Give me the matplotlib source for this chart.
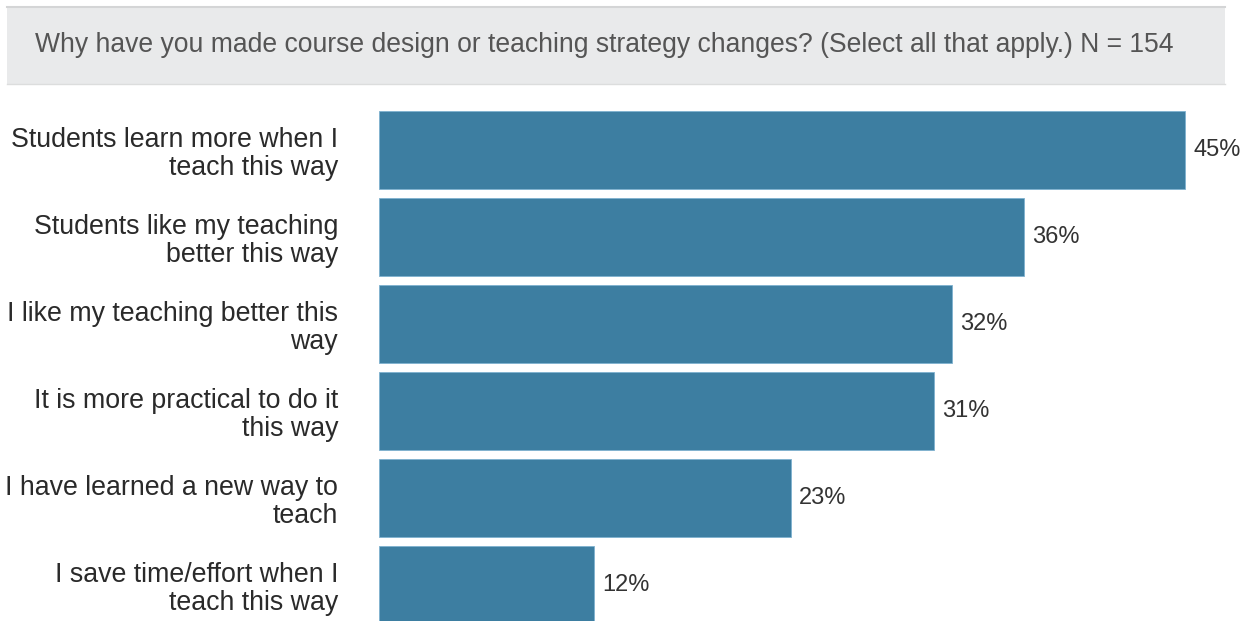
import matplotlib.pyplot as plt
from matplotlib.patches import Rectangle

plt.rcParams['font.family'] = ['Liberation Sans', 'DejaVu Sans']

title = "Why have you made course design or teaching strategy changes? (Select all that apply.) N = 154"
reasons = [
    "Students learn more when I\nteach this way",
    "Students like my teaching\nbetter this way",
    "I like my teaching better this\nway",
    "It is more practical to do it\nthis way",
    "I have learned a new way to\nteach",
    "I save time/effort when I\nteach this way",
]
percents = [45, 36, 32, 31, 23, 12]

W, H = 1247, 621
fig = plt.figure(figsize=(W / 100, H / 100), dpi=100)

# grey header band with the question
band = Rectangle((7 / W, 1 - 84 / H), (1225 - 7) / W, 77 / H,
                 transform=fig.transFigure, facecolor='#e9eaeb',
                 edgecolor='none', zorder=0)
fig.patches.append(band)
fig.add_artist(plt.Line2D([7 / W, 1225 / W], [1 - 7 / H, 1 - 7 / H],
                          transform=fig.transFigure, color='#d4d5d6', lw=1.5))
fig.add_artist(plt.Line2D([7 / W, 1225 / W], [1 - 84 / H, 1 - 84 / H],
                          transform=fig.transFigure, color='#dcdddd', lw=1))
fig.text(35 / W, 1 - 45 / H, title, fontsize=19.1, color='#555555',
         va='center', ha='left')

# bar area
pitch = 87
top = 150 - 0.5 * pitch
ax = fig.add_axes([379 / W, 0, (W - 379) / W, (H - top) / H])
scale = (1185 - 379) / 45
ax.set_xlim(0, (W - 379) / scale)
ax.set_ylim((H - 150) / pitch, -0.5)

ypos = list(range(len(reasons)))
ax.barh(ypos, percents, height=78 / pitch, color='#3d7ea1',
        edgecolor='#7fb2cf', linewidth=0.6)
for y, v in zip(ypos, percents):
    ax.annotate(f"{v}%", (v, y), xytext=(6, 0), textcoords='offset points',
                va='center', ha='left', fontsize=17, color='#333333')

ax.set_yticks(ypos)
ax.set_yticklabels(reasons, fontsize=19.3, color='#2a2a2a')
for lbl in ax.get_yticklabels():
    lbl.set_linespacing(1.1)
ax.tick_params(axis='y', length=0, pad=29.5)
ax.set_xticks([])
for s in ax.spines.values():
    s.set_visible(False)

fig.savefig('out.png', dpi=100)
